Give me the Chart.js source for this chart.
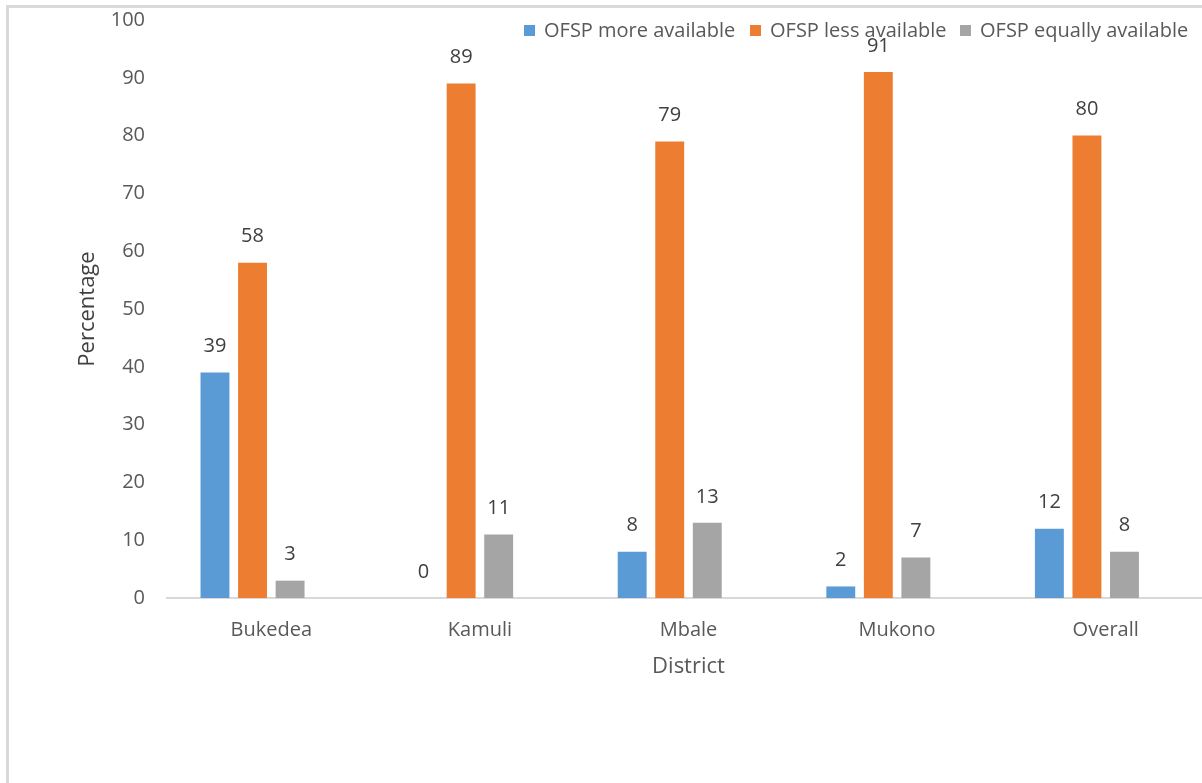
<!DOCTYPE html>
<html>
<head>
<meta charset="utf-8">
<script src="https://cdn.jsdelivr.net/npm/chart.js@4.4.0/dist/chart.umd.min.js"></script>
<style>
    html, body { margin: 0; padding: 0; background: #fff; overflow: hidden; }
    #frame {
        position: absolute; left: 6px; top: 5px; width: 1300px; height: 900px;
        border-left: 3px solid #d9d9d9; border-top: 3px solid #d9d9d9;
    }
    #wrap { position: absolute; left: 0; top: 0; width: 1210px; height: 783px; }
    .legend-item {
        position: absolute; top: 16px; height: 28px; line-height: 28px;
        font-family: "Open Sans", sans-serif; font-size: 20px; color: #595959;
        white-space: nowrap;
    }
    .legend-item span.box {
        display: inline-block; width: 11px; height: 11px; margin-right: 9px;
        vertical-align: 1px;
    }
</style>
</head>
<body>
<div id="frame"></div>
<div id="wrap"><canvas id="barChart" width="1210" height="783"></canvas></div>
<div id="legend"></div>

<script>
// Chart data
var districts = ['Bukedea', 'Kamuli', 'Mbale', 'Mukono', 'Overall'];
var moreAvailable = [39, 0, 8, 2, 12];
var lessAvailable = [58, 89, 79, 91, 80];
var equallyAvailable = [3, 11, 13, 7, 8];
var emptySeries = [null, null, null, null, null]; // empty 4th series in the source chart
var seriesNames = ['OFSP more available', 'OFSP less available', 'OFSP equally available'];
var seriesColors = ['#5B9BD5', '#ED7D31', '#A5A5A5'];
var yTicks = [0, 10, 20, 30, 40, 50, 60, 70, 80, 90, 100];

var fontName = '"Open Sans", sans-serif';
var legendLeft = [524, 750, 960];

// Build the HTML legend
function buildLegend() {
    var legend = document.getElementById('legend');
    seriesNames.forEach(function(name, i) {
        var item = document.createElement('div');
        item.className = 'legend-item';
        item.style.left = legendLeft[i] + 'px';
        item.innerHTML = '<span class="box" style="background:' + seriesColors[i] + '"></span>' + name;
        legend.appendChild(item);
    });
}

// Draw the value on top of every bar
var valueLabels = {
    id: 'valueLabels',
    afterDatasetsDraw: function(chart) {
        var ctx = chart.ctx;
        ctx.save();
        ctx.font = '20px ' + fontName;
        ctx.fillStyle = '#404040';
        ctx.textAlign = 'center';
        ctx.textBaseline = 'middle';
        chart.data.datasets.forEach(function(ds, i) {
            chart.getDatasetMeta(i).data.forEach(function(bar, j) {
                if (ds.data[j] === null) return;
                ctx.fillText(ds.data[j], bar.x, bar.y - 26);
            });
        });
        ctx.restore();
    }
};

function makeDataset(name, values, color) {
    return {
        label: name,
        data: values,
        backgroundColor: color,
        borderWidth: 0,
        categoryPercentage: 0.72,
        barPercentage: 0.77
    };
}

buildLegend();

var ctx = document.getElementById('barChart').getContext('2d');
var barChart = new Chart(ctx, {
    type: 'bar',
    data: {
        labels: districts,
        datasets: [
            makeDataset(seriesNames[0], moreAvailable, seriesColors[0]),
            makeDataset(seriesNames[1], lessAvailable, seriesColors[1]),
            makeDataset(seriesNames[2], equallyAvailable, seriesColors[2]),
            makeDataset('', emptySeries, 'transparent')
        ]
    },
    options: {
        responsive: false,
        animation: false,
        layout: { padding: { top: 20, left: 71, right: 0, bottom: 101 } },
        plugins: {
            legend: { display: false },
            tooltip: { enabled: false }
        },
        scales: {
            x: {
                afterFit: function(scale) {
                    scale.height = 84;
                    scale.paddingLeft = 0;
                    scale.paddingRight = 0;
                },
                grid: { display: false, drawTicks: false },
                border: { display: true, color: '#d9d9d9', width: 2 },
                ticks: { color: '#595959', font: { family: fontName, size: 20 }, padding: 20 },
                title: {
                    display: true, text: 'District', color: '#595959',
                    font: { family: fontName, size: 22 }, padding: { top: 12, bottom: 2 }
                }
            },
            y: {
                min: 0, max: 100,
                afterBuildTicks: function(scale) {
                    scale.ticks = yTicks.map(function(v) { return { value: v }; });
                },
                afterFit: function(scale) {
                    scale.width = 96;
                    scale.paddingTop = 0;
                    scale.paddingBottom = 0;
                },
                grid: { display: false, drawTicks: false },
                border: { display: false },
                ticks: { color: '#595959', font: { family: fontName, size: 20 }, padding: 22 },
                title: {
                    display: true, text: 'Percentage', color: '#404040',
                    font: { family: fontName, size: 22 }
                }
            }
        }
    },
    plugins: [valueLabels]
});
</script>
</body>
</html>
